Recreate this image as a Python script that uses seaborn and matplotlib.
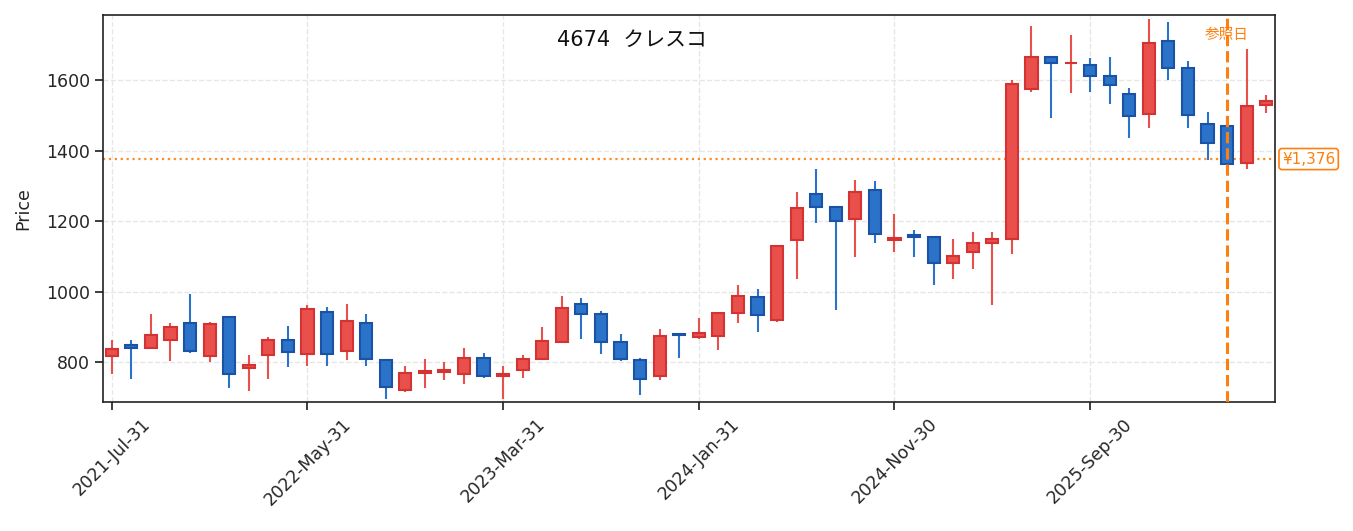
import numpy as np
import pandas as pd
import matplotlib
matplotlib.use('Agg')
import matplotlib.pyplot as plt
import matplotlib.transforms as mtransforms
import seaborn as sns

# Monthly OHLC data
dates = pd.date_range("2021-07-31", periods=60, freq="ME")
opens = [818, 850, 842, 865, 911, 818, 929, 783, 820, 864,
         824, 944, 833, 912, 806, 722, 770, 773, 766, 813,
         761, 780, 809, 857, 966, 938, 859, 808, 763, 882,
         872, 875, 939, 986, 919, 1147, 1276, 1241, 1205, 1289,
         1147, 1162, 1156, 1081, 1112, 1138, 1149, 1574, 1666, 1647,
         1641, 1612, 1561, 1504, 1711, 1635, 1476, 1471, 1366, 1529]
highs = [863, 863, 937, 911, 994, 914, 929, 821, 872, 903,
         962, 957, 965, 937, 806, 790, 810, 801, 841, 826,
         790, 821, 900, 988, 982, 945, 880, 814, 894, 882,
         926, 944, 1019, 1008, 1131, 1283, 1348, 1241, 1317, 1314,
         1220, 1175, 1156, 1150, 1169, 1169, 1599, 1753, 1666, 1727,
         1661, 1664, 1577, 1773, 1764, 1653, 1509, 1491, 1688, 1557]
lows = [767, 754, 842, 805, 827, 802, 728, 720, 754, 788,
        791, 791, 808, 791, 697, 717, 728, 751, 740, 757,
        697, 757, 809, 857, 866, 825, 805, 708, 751, 813,
        867, 835, 912, 887, 915, 1037, 1196, 949, 1100, 1139,
        1114, 1100, 1020, 1037, 1065, 963, 1108, 1567, 1493, 1564,
        1567, 1533, 1437, 1465, 1601, 1465, 1374, 1358, 1348, 1507]
closes = [839, 840, 878, 901, 832, 908, 767, 793, 864, 829,
          952, 824, 918, 810, 730, 771, 776, 778, 813, 763,
          768, 809, 861, 955, 937, 858, 809, 753, 876, 879,
          884, 939, 989, 934, 1131, 1238, 1239, 1202, 1284, 1164,
          1153, 1155, 1081, 1102, 1139, 1151, 1588, 1666, 1648, 1649,
          1611, 1586, 1498, 1706, 1634, 1501, 1421, 1362, 1527, 1539]

TITLE = "4674  クレスコ"
REF_INDEX = 57
REF_PRICE = 1376

UP_FACE, UP_EDGE = "#e94f4b", "#d33333"
DOWN_FACE, DOWN_EDGE = "#2b72c9", "#1a52a6"
ORANGE = "#ff7f0e"

df = pd.DataFrame({"date": dates, "open": opens, "high": highs,
                   "low": lows, "close": closes})
df["idx"] = np.arange(len(df))
df["up"] = df["close"] >= df["open"]

sns.set_theme(style="ticks")
plt.rcParams['font.family'] = ['DejaVu Sans', 'Noto Sans CJK JP']

fig = plt.figure(figsize=(13.53, 5.31), dpi=100)
ax = fig.add_axes([0.0761, 0.2429, 0.8663, 0.7289])

# wicks + bodies
for up, face, edge in [(True, UP_FACE, UP_EDGE), (False, DOWN_FACE, DOWN_EDGE)]:
    sub = df[df["up"] == up]
    ax.vlines(sub["idx"], sub["low"], sub["high"], color=face, lw=1.5, zorder=2)
    bottom = np.minimum(sub["open"], sub["close"])
    height = np.abs(sub["close"] - sub["open"])
    ax.bar(sub["idx"], height, bottom=bottom, width=0.62, color=face,
           edgecolor=edge, linewidth=1.5, zorder=3)

# reference lines
ax.axvline(REF_INDEX, color=ORANGE, ls="--", lw=2.2, zorder=4)
ax.axhline(REF_PRICE, color=ORANGE, ls=":", lw=1.6, alpha=0.9, zorder=1)
ax.text(REF_INDEX, 0.95, "参照日",
        transform=mtransforms.blended_transform_factory(ax.transData, ax.transAxes),
        color=ORANGE, fontsize=10.5, ha="center", va="center")
ax.annotate(f"¥{REF_PRICE:,}", xy=(1.0, REF_PRICE),
            xycoords=mtransforms.blended_transform_factory(ax.transAxes, ax.transData),
            xytext=(5, 0), textcoords="offset points", ha="left", va="center",
            color=ORANGE, fontsize=11,
            bbox=dict(boxstyle="round,pad=0.2", fc="white", ec=ORANGE, lw=1.2),
            annotation_clip=False)

ax.text(0.451, 0.935, TITLE, transform=ax.transAxes, ha="center", va="center",
        fontsize=15, color="#111111")

ax.set_xlim(-0.45, len(df) - 1 + 0.45)
ax.set_ylim(688, 1784)
ticks = df["idx"][::10]
ax.set_xticks(ticks)
ax.set_xticklabels([d.strftime("%Y-%b-%d") for d in df["date"][::10]],
                   rotation=45, ha="center", fontsize=12.5)
ax.set_yticks([800, 1000, 1200, 1400, 1600])
ax.tick_params(axis="y", labelsize=12.5)
ax.set_ylabel("Price", fontsize=12.5, labelpad=10)
ax.grid(True, ls="--", color="#e6e6e6", lw=1)
ax.set_axisbelow(True)
for s in ax.spines.values():
    s.set_linewidth(1.2)
    s.set_color("#222222")

fig.savefig("out.png", dpi=100)
